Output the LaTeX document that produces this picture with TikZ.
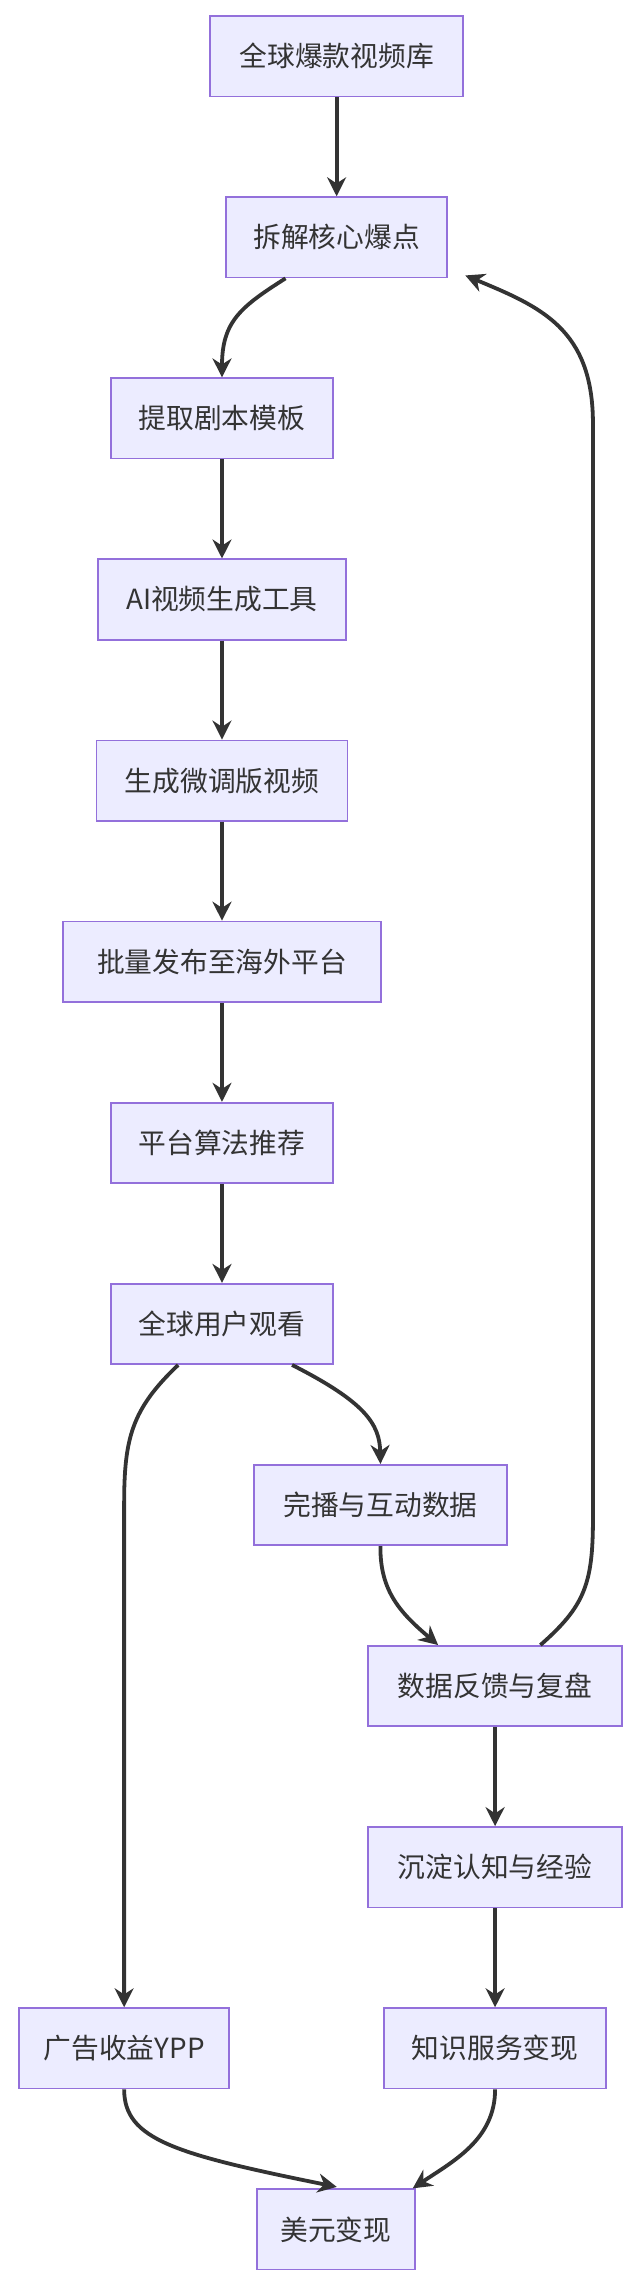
\documentclass[tikz,border=0pt]{standalone}
\usepackage{fontspec}
\setmainfont{Noto Sans CJK SC}
\usetikzlibrary{arrows.meta}
\definecolor{nf}{HTML}{ECECFF}
\definecolor{nb}{HTML}{9370DB}
\definecolor{ar}{HTML}{333333}
\begin{document}
\begin{tikzpicture}[x=1pt,y=-1pt,
  box/.style={draw=nb,fill=nf,line width=1.2pt,minimum height=55pt,inner xsep=10pt,font=\fontsize{19}{22}\selectfont,text=ar},
  arr/.style={draw=ar,line width=2.6pt,-{Stealth[length=13pt,width=13pt]}}]
\fill[white] (0,0) rectangle (440,1568);
\node[box,minimum width=173pt] (n1) at (230.5,38.5) {全球爆款视频库};
\node[box,minimum width=151pt] (n2) at (230.5,162.5) {拆解核心爆点};
\node[box,minimum width=152pt] (n3) at (152,286.5) {提取剧本模板};
\node[box,minimum width=170pt] (n4) at (152,410.5) {AI视频生成工具};
\node[box,minimum width=172pt] (n5) at (152,534.5) {生成微调版视频};
\node[box,minimum width=218pt] (n6) at (152,658.5) {批量发布至海外平台};
\node[box,minimum width=152pt] (n7) at (152,782.5) {平台算法推荐};
\node[box,minimum width=152pt] (n8) at (152,906.5) {全球用户观看};
\node[box,minimum width=173pt] (n9) at (260.5,1030.5) {完播与互动数据};
\node[box,minimum width=174pt] (n10) at (339,1154.5) {数据反馈与复盘};
\node[box,minimum width=174pt] (n11) at (339,1278.5) {沉淀认知与经验};
\node[box,minimum width=144pt] (n12) at (85,1402.5) {广告收益YPP};
\node[box,minimum width=152pt] (n13) at (339,1402.5) {知识服务变现};
\node[box,minimum width=108pt] (n14) at (230,1526.5) {美元变现};
\draw[arr] (n1) -- (n2);
\draw[arr] ([xshift=-35pt]n2.south) .. controls (165,210) and (152,220) .. (n3.north);
\draw[arr] (n3) -- (n4);
\draw[arr] (n4) -- (n5);
\draw[arr] (n5) -- (n6);
\draw[arr] (n6) -- (n7);
\draw[arr] (n7) -- (n8);
\draw[arr] ([xshift=-30pt]n8.south) .. controls (90,965) and (85,985) .. (85,1030) -- (n12.north);
\draw[arr] ([xshift=48pt]n8.south) .. controls (250,960) and (260,975) .. (n9.north);
\draw[arr] (n9.south) .. controls (260,1090) and (275,1105) .. ([xshift=-39pt]n10.north);
\draw[arr] ([xshift=31pt]n10.north) .. controls (400,1100) and (406,1085) .. (406,1040) -- (406,290) .. controls (406,225) and (370,210) .. ([xshift=12pt,yshift=2pt]n2.south east);
\draw[arr] (n10) -- (n11);
\draw[arr] (n11) -- (n13);
\draw[arr] (n12.south) .. controls (85,1465) and (120,1475) .. ([xshift=-54pt,yshift=1pt]n14.north east);
\draw[arr] (n13.south) .. controls (339,1465) and (310,1480) .. ([xshift=-2pt]n14.north east);
\end{tikzpicture}
\end{document}
